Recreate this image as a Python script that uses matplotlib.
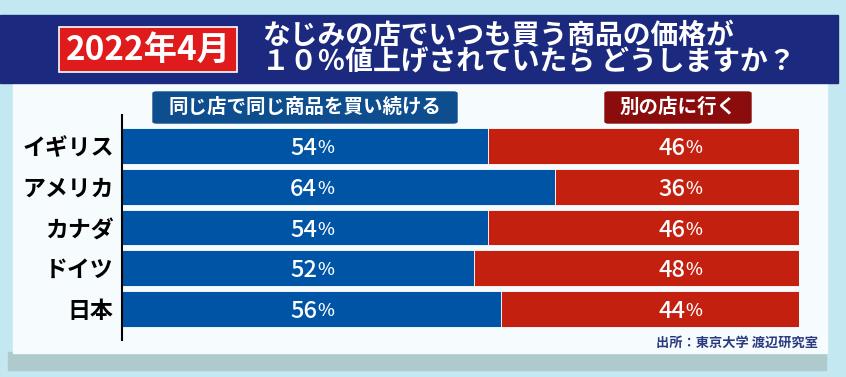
import matplotlib
matplotlib.use('Agg')
import matplotlib.pyplot as plt
from matplotlib.patches import Rectangle, FancyBboxPatch

plt.rcParams['font.family'] = ['Noto Sans CJK JP', 'DejaVu Sans']

# Survey data: "same shop, same product" vs "go to another shop"
countries = ['イギリス', 'アメリカ', 'カナダ', 'ドイツ', '日本']
keep_pct = [54, 64, 54, 52, 56]
switch_pct = [46, 36, 46, 48, 44]

badge_text = '2022年4月'
title_text = ('なじみの店でいつも買う商品の価格が\n'
              '１０％値上げされていたら どうしますか？')
keep_label = '同じ店で同じ商品を買い続ける'
switch_label = '別の店に行く'
source_text = '出所：東京大学 渡辺研究室'

# Colours
bg_color = '#C4E8F1'
navy = '#1B2A7F'
badge_red = '#E01B1B'
bar_blue = '#0054A6'
bar_red = '#C4200F'
legend_blue = '#0E4E8F'
legend_red = '#8A0C0C'

W, H = 846, 377


def fx(x):
    return x / W


def fy(y):
    return 1 - y / H


fig = plt.figure(figsize=(W / 100, H / 100), dpi=100)
fig.patch.set_facecolor(bg_color)

# shadow under the panel, white panel, navy header band
fig.add_artist(Rectangle((fx(8), fy(370)), fx(826) - fx(8), fy(352) - fy(370),
                         transform=fig.transFigure, color='#AFCACC', zorder=0))
fig.add_artist(Rectangle((fx(13), fy(353)), fx(827) - fx(13), fy(83) - fy(353),
                         transform=fig.transFigure, color='#F6FBFD', zorder=0))
fig.add_artist(Rectangle((0, fy(83)), fx(838), fy(15) - fy(83),
                         transform=fig.transFigure, color=navy, zorder=1))

# red date badge
fig.add_artist(Rectangle((fx(59), fy(72)), fx(237) - fx(59), fy(27) - fy(72),
                         transform=fig.transFigure, facecolor=badge_red,
                         edgecolor='white', linewidth=1.2, zorder=2))
fig.text(fx(148), fy(50), badge_text, ha='center', va='center', color='white',
         fontsize=24, fontweight='bold', zorder=3)

# title (two lines in one text)
fig.text(fx(262), fy(49), title_text, ha='left', va='center', color='white',
         fontsize=20, fontweight='bold', linespacing=0.92, zorder=3)

# legend boxes
for x0, x1, label, col in [(153, 457, keep_label, legend_blue),
                           (605, 751, switch_label, legend_red)]:
    fig.add_artist(FancyBboxPatch((fx(x0), fy(123)), fx(x1) - fx(x0), fy(92) - fy(123),
                                  boxstyle='round,pad=0,rounding_size=0.004',
                                  transform=fig.transFigure, color=col, zorder=2))
    fig.text(fx((x0 + x1) / 2), fy(107.5), label, ha='center', va='center',
             color='white', fontsize=14, fontweight='bold', zorder=3)

# bar chart
ax = fig.add_axes([fx(122), fy(340), fx(799) - fx(122), fy(115) - fy(340)])
ax.set_facecolor('none')
ypos = list(range(len(countries)))
ax.barh(ypos, keep_pct, height=0.88, color=bar_blue, edgecolor='white', linewidth=0.6)
ax.barh(ypos, switch_pct, left=keep_pct, height=0.88, color=bar_red,
        edgecolor='white', linewidth=0.6)
ax.set_xlim(0, 100)
ax.set_ylim(4.76, -0.76)

keep_label_x = 28.8
switch_label_x = 83.2
for i in ypos:
    for xx, v in [(keep_label_x, keep_pct[i]), (switch_label_x, switch_pct[i])]:
        ax.text(xx, i, str(v), ha='right', va='center_baseline', color='white',
                fontsize=17, fontweight='medium')
        ax.text(xx, i, '%', ha='left', va='center_baseline', color='white',
                fontsize=13, fontweight='medium')

for s in ['top', 'right', 'bottom']:
    ax.spines[s].set_visible(False)
ax.spines['left'].set_color('black')
ax.spines['left'].set_linewidth(1.5)
ax.set_xticks([])
ax.set_yticks(ypos)
ax.set_yticklabels(countries, fontsize=16.5, fontweight='bold', color='black')
ax.tick_params(axis='y', length=0, pad=6)

# source note
fig.text(fx(818), fy(343), source_text, ha='right', va='center', color='#2B3A80',
         fontsize=9.5, fontweight='bold')

fig.savefig('out.png', dpi=100, facecolor=fig.get_facecolor())
